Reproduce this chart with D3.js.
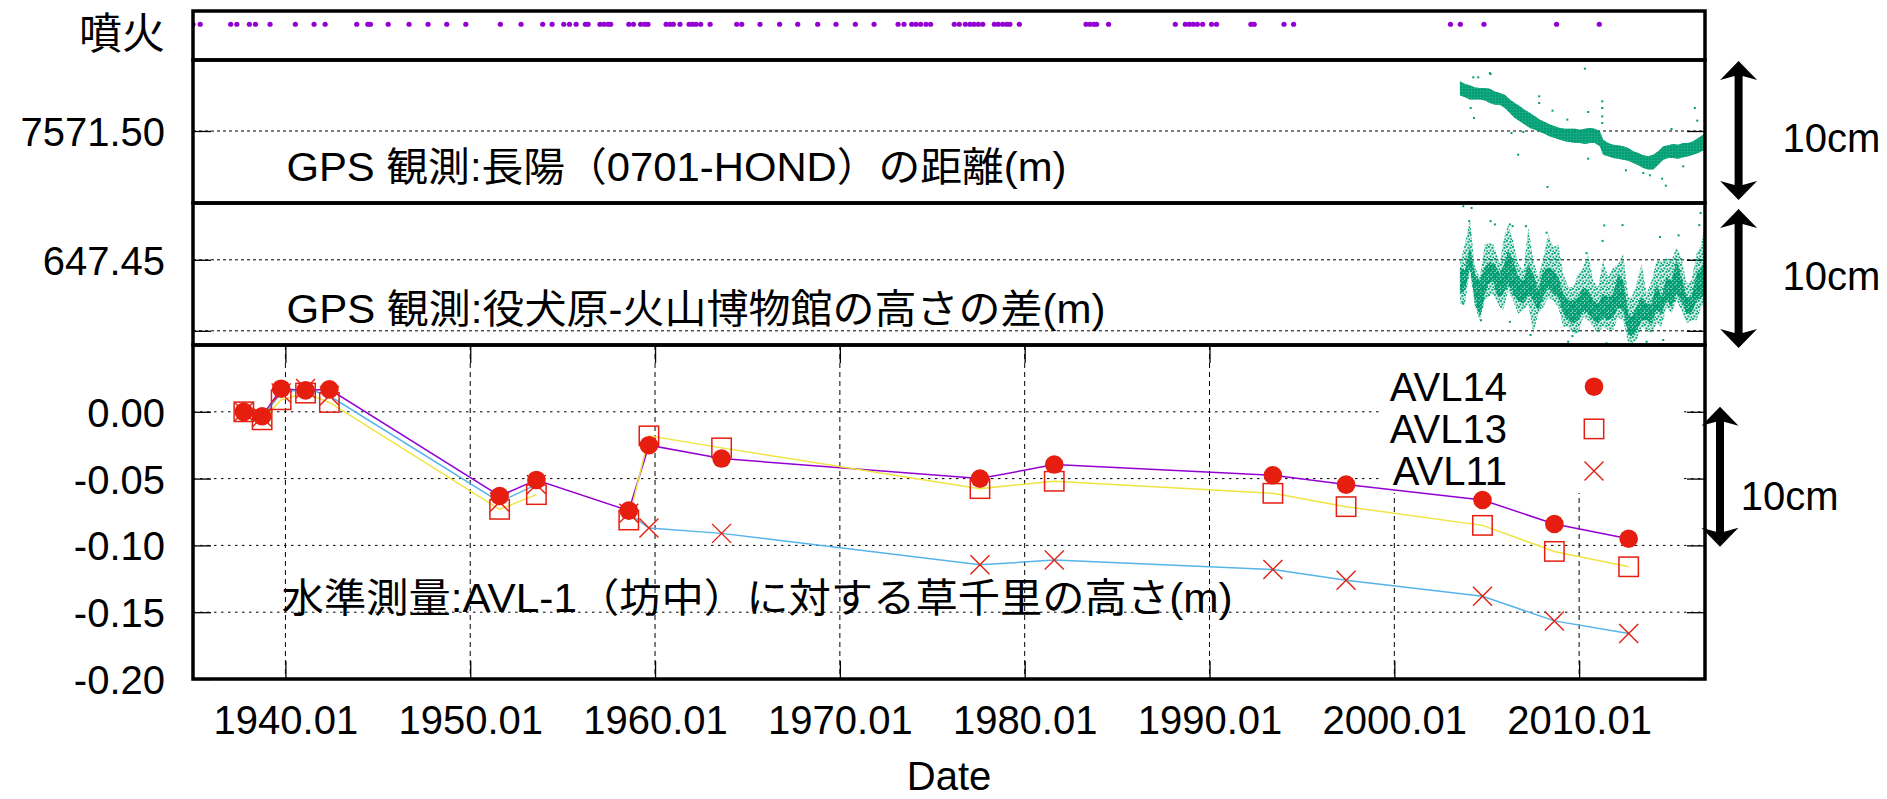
<!DOCTYPE html>
<html><head><meta charset="utf-8">
<script src="https://cdn.jsdelivr.net/npm/d3@7"></script>
<style>body{margin:0;background:#fff}svg{display:block}</style>
</head><body>
<svg id="chart" width="1887" height="799"></svg>
<script>
// ---------------- DATA ----------------
// eruption dates (decimal years)
const eruptionYears = [1935.00,1935.39,1937.04,1937.37,1938.05,1938.38,1939.17,1940.54,1941.55,1942.15,1943.86,1944.46,1944.60,1945.56,1946.69,1947.72,1948.73,1949.76,1951.63,1952.75,1953.92,1954.43,1955.06,1955.37,1955.73,1956.23,1956.38,1957.02,1957.24,1957.46,1957.60,1958.58,1958.83,1959.22,1959.44,1959.62,1960.60,1960.81,1960.99,1961.35,1961.84,1962.03,1962.22,1962.47,1962.98,1964.42,1964.69,1965.68,1966.74,1967.72,1968.80,1969.79,1970.84,1971.85,1973.15,1973.47,1973.89,1974.12,1974.37,1974.66,1974.91,1976.19,1976.46,1976.79,1977.04,1977.26,1977.49,1977.73,1978.36,1978.57,1978.81,1979.02,1979.20,1979.71,1983.32,1983.53,1983.75,1983.89,1984.54,1988.15,1988.69,1988.91,1989.12,1989.34,1989.63,1990.11,1990.38,1992.24,1992.42,1994.03,1994.55,2003.04,2003.57,2004.85,2008.78,2011.09];

// GPS distance 0701-HOND (m): band upper / lower edges
const gpsDistYears = [2003.55,2003.82,2004.09,2004.36,2004.63,2004.90,2005.17,2005.44,2005.71,2005.98,2006.25,2006.52,2006.79,2007.05,2007.34,2007.61,2007.88,2008.15,2008.42,2008.69,2008.96,2009.23,2009.50,2009.77,2010.04,2010.31,2010.58,2010.85,2011.12,2011.30,2011.57,2011.84,2012.11,2012.38,2012.66,2012.93,2013.20,2013.47,2013.74,2014.01,2014.28,2014.55,2014.82,2015.09,2015.36,2015.63,2015.90,2016.17,2016.44,2016.71,2016.81];
const gpsDistHi = [7571.5350,7571.5331,7571.5322,7571.5307,7571.5303,7571.5303,7571.5298,7571.5279,7571.5268,7571.5256,7571.5221,7571.5197,7571.5174,7571.5150,7571.5127,7571.5103,7571.5080,7571.5063,7571.5045,7571.5033,7571.5021,7571.5016,7571.5016,7571.5016,7571.5009,7571.5016,7571.5021,7571.5016,7571.4998,7571.4939,7571.4916,7571.4904,7571.4899,7571.4892,7571.4880,7571.4857,7571.4845,7571.4829,7571.4822,7571.4833,7571.4857,7571.4892,7571.4899,7571.4908,7571.4904,7571.4916,7571.4916,7571.4927,7571.4951,7571.4974,7571.4985];
const gpsDistLo = [7571.5251,7571.5237,7571.5221,7571.5221,7571.5221,7571.5214,7571.5197,7571.5185,7571.5185,7571.5162,7571.5127,7571.5092,7571.5068,7571.5045,7571.5021,7571.5009,7571.4993,7571.4979,7571.4962,7571.4951,7571.4939,7571.4927,7571.4923,7571.4916,7571.4916,7571.4908,7571.4916,7571.4916,7571.4892,7571.4833,7571.4822,7571.4810,7571.4805,7571.4798,7571.4791,7571.4775,7571.4758,7571.4739,7571.4728,7571.4728,7571.4763,7571.4798,7571.4810,7571.4810,7571.4805,7571.4815,7571.4822,7571.4833,7571.4845,7571.4862,7571.4870];
const gpsDistOutYears = [2010.31,2005.17,2004.27,2004.54,2005.21,2007.84,2007.84,2011.25,2011.25,2011.25,2011.25,2010.49,2008.56,2016.26,2016.39,2006.70,2006.34,2008.29,2014.69,2014.49,2012.53,2010.49,2009.36,2004.31,2004.13,2015.00,2006.98,2013.47,2013.83,2015.63];
const gpsDistOutVals = [7571.5439,7571.5408,7571.5378,7571.5378,7571.5401,7571.5244,7571.5197,7571.5209,7571.5162,7571.5103,7571.5056,7571.5134,7571.5143,7571.5162,7571.5073,7571.4833,7571.4986,7571.4606,7571.4615,7571.4664,7571.4723,7571.4805,7571.5080,7571.5092,7571.5162,7571.5014,7571.4993,7571.4704,7571.4688,7571.4751];

// GPS height difference (m): sparse envelope and dense core
const gpsHgtYears = [2003.55,2003.82,2004.09,2004.36,2004.63,2004.90,2005.08,2005.35,2005.53,2005.71,2005.89,2006.16,2006.43,2006.70,2006.98,2007.25,2007.52,2007.79,2008.06,2008.33,2008.60,2008.87,2009.14,2009.41,2009.68,2009.95,2010.22,2010.49,2010.76,2011.03,2011.30,2011.57,2011.84,2012.11,2012.38,2012.66,2012.84,2013.11,2013.38,2013.65,2013.92,2014.19,2014.46,2014.73,2015.00,2015.27,2015.54,2015.81,2016.08,2016.35,2016.62,2016.80];
const gpsHgtOuterHi = [647.4470,647.4609,647.4784,647.4447,647.4377,647.4609,647.4621,647.4609,647.4540,647.4470,647.4633,647.4749,647.4633,647.4470,647.4423,647.4726,647.4493,647.4377,647.4516,647.4679,647.4586,647.4609,647.4400,647.4307,647.4307,647.4400,647.4447,647.4540,647.4353,647.4307,647.4493,647.4377,647.4447,647.4470,647.4540,647.4237,647.4237,647.4330,647.4470,647.4260,647.4353,647.4493,647.4493,647.4516,647.4493,647.4586,647.4516,647.4330,647.4353,647.4540,647.4609,647.4772];
const gpsHgtCoreHi = [647.4447,647.4423,647.4586,647.4400,647.4353,647.4447,647.4481,647.4470,647.4447,647.4400,647.4447,647.4563,647.4493,647.4377,647.4353,647.4470,647.4400,647.4284,647.4423,647.4447,647.4423,647.4377,647.4260,647.4214,647.4214,647.4237,647.4307,647.4284,647.4214,647.4191,647.4260,647.4237,647.4260,647.4400,647.4353,647.4121,647.4098,647.4167,647.4237,647.4191,647.4191,647.4330,647.4237,647.4377,647.4353,647.4493,647.4377,647.4237,647.4237,647.4400,647.4447,647.4493];
const gpsHgtCoreLo = [647.4260,647.4284,647.4447,647.4214,647.4098,647.4260,647.4330,647.4353,647.4260,647.4237,647.4260,647.4330,647.4260,647.4214,647.4191,647.4260,647.4214,647.4144,647.4237,647.4307,647.4260,647.4237,647.4121,647.4074,647.4051,647.4074,647.4144,647.4121,647.4074,647.4051,647.4098,647.4074,647.4098,647.4167,647.4144,647.3981,647.3958,647.4005,647.4074,647.4074,647.4051,647.4144,647.4121,647.4214,647.4167,647.4260,647.4214,647.4121,647.4121,647.4214,647.4237,647.4260];
const gpsHgtOuterLo = [647.4191,647.4191,647.4423,647.4167,647.4074,647.4214,647.4237,647.4260,647.4214,647.4167,647.4144,647.4284,647.4214,647.4121,647.4144,647.4191,647.3981,647.4121,647.4167,647.4237,647.4214,647.4167,647.4028,647.4028,647.3981,647.3981,647.4098,647.4074,647.4028,647.3981,647.4028,647.4005,647.4005,647.4098,647.4074,647.3912,647.3912,647.3935,647.4028,647.4005,647.3981,647.4051,647.4028,647.4167,647.4121,647.4214,647.4144,647.4051,647.4074,647.4074,647.4167,647.4214];
const gpsHgtOutYears = [2003.73,2004.18,2004.09,2004.05,2005.21,2005.44,2006.25,2006.40,2007.12,2008.24,2011.36,2012.35,2014.37,2015.38,2016.50,2016.57,2007.37,2009.64,2012.84,2014.55,2006.25,2004.69,2010.40,2011.27,2003.73,2009.41,2011.48,2013.65];
const gpsHgtOutVals = [647.4877,647.4865,647.4691,647.4772,647.4772,647.4749,647.4749,647.4737,647.4737,647.4691,647.4742,647.4744,647.4660,647.4672,647.4744,647.4830,647.3970,647.3963,647.3907,647.3935,647.4063,647.4074,647.4547,647.4633,647.4191,647.3923,647.3912,647.3923];

// levelling: heights relative to AVL-1 (m)
const levYears = [1937.75,1938.74,1939.77,1941.09,1942.38,1951.59,1953.58,1958.58,1959.67,1963.60,1977.58,1981.60,1993.43,1997.39,2004.77,2008.66,2012.68];
const avl14 = [0.0000,-0.0033,0.0173,0.0160,0.0168,-0.0630,-0.0510,-0.0740,-0.0250,-0.0350,-0.0500,-0.0395,-0.0475,-0.0545,-0.0660,-0.0840,-0.0950];
const avl13 = [0.0000,-0.0060,0.0090,0.0140,0.0070,-0.0730,-0.0620,-0.0810,-0.0180,-0.0270,-0.0575,-0.0520,-0.0610,-0.0710,-0.0850,-0.1045,-0.1160];
const avl11 = [0.0000,-0.0040,0.0140,0.0175,0.0120,-0.0675,-0.0545,-0.0760,-0.0870,-0.0910,-0.1145,-0.1110,-0.1180,-0.1260,-0.1380,-0.1565,-0.1660];
const seriesNames = ["AVL14","AVL13","AVL11"];

// ticks
const xTickValues = [1940,1950,1960,1970,1980,1990,2000,2010];
const xTickLabels = ["1940.01","1950.01","1960.01","1970.01","1980.01","1990.01","2000.01","2010.01"];
const distTicks = [7571.50];
const distTickLabels = ["7571.50"];
const hgtTicks = [647.40, 647.45];
const hgtTickLabels = ["", "647.45"];
const levTicks = [0.00,-0.05,-0.10,-0.15,-0.20];
const levTickLabels = ["0.00","-0.05","-0.10","-0.15","-0.20"];

// 10cm scale arrows (value spans in each panel's units)
const arrowDist = [7571.5493, 7571.4514];
const arrowHgt = [647.4858, 647.3879];
const arrowLev = [0.0038, -0.1010];

// ---------------- LAYOUT ----------------
const plotL = 193, plotR = 1705;
const P1 = [11, 60], P2 = [60, 203], P3 = [203, 345], P4 = [345, 679];
const LATIN = "'Liberation Sans', Arial, sans-serif";
const JP = "'Liberation Sans', 'Noto Sans CJK JP', sans-serif";
const RED = "#e51e10", GREEN = "#009e73";

const svg = d3.select('#chart');
svg.append('rect').attr('width',1887).attr('height',799).attr('fill','#fff');

const x = d3.scaleLinear().domain([1935.0, 2016.81]).range([plotL, plotR]);
const yE = d3.scaleLinear().domain([0, 1]).range([P1[1], P1[0]]);
const yD = d3.scaleLinear().domain([7571.45, 7571.55]).range([202, P2[0]]);
const yH = d3.scaleLinear().domain([647.39, 647.49]).range([P3[1], P3[0]]);
const yL = d3.scaleLinear().domain([-0.20, 0.05]).range([P4[1], P4[0]]);

// clip paths and speckle patterns (to mimic dense scatter of daily GPS points)
const defs = svg.append('defs');
[['c1',P1],['c2',P2],['c3',P3],['c4',P4]].forEach(([id,p])=>{
  defs.append('clipPath').attr('id',id).append('rect')
    .attr('x',plotL).attr('y',p[0]).attr('width',plotR-plotL).attr('height',p[1]-p[0]);
});
function speckle(id, size, dots, r){
  const pt = defs.append('pattern').attr('id',id).attr('patternUnits','userSpaceOnUse')
    .attr('width',size).attr('height',size);
  dots.forEach(([a,b])=>pt.append('rect').attr('x',a).attr('y',b).attr('width',r).attr('height',r).attr('fill',GREEN));
}
speckle('spSparse', 6, [[0,0],[3.5,1],[1.5,3.5],[4.5,4.5]], 1.8);
speckle('spDense', 4, [[0,0],[2,1],[1,2.5],[3,3]], 2);
speckle('spBand', 3, [[0,0],[1.5,1.5],[0,1.5],[1.5,0]], 1.6);

// ---------------- GRID ----------------
function hGrid(scale, vals, clip, dash){
  svg.append('g').attr('clip-path',`url(#${clip})`).selectAll('line').data(vals).join('line')
    .attr('x1',plotL).attr('x2',plotR).attr('y1',d=>scale(d)).attr('y2',d=>scale(d))
    .attr('stroke','#000').attr('stroke-width',1).attr('stroke-dasharray',dash);
}
hGrid(yD, distTicks, 'c2', '3,3');
hGrid(yH, hgtTicks, 'c3', '3,3');
hGrid(yL, levTicks.filter(v=>v>-0.2), 'c4', '2.5,4.5');
svg.append('g').selectAll('line').data(xTickValues).join('line')
  .attr('x1',d=>x(d)).attr('x2',d=>x(d)).attr('y1',P4[0]).attr('y2',P4[1])
  .attr('stroke','#000').attr('stroke-width',1).attr('stroke-dasharray','5,4');

// ---------------- AXES ----------------
function styleAxis(g){
  g.select('.domain').remove();
  g.attr('font-size',null).attr('font-family',null);
  g.selectAll('line').attr('stroke','#000').attr('stroke-width',1.3);
  g.selectAll('text').attr('fill','#000').attr('font-size',40).attr('font-family',LATIN);
}
function yAxes(scale, vals, labels){
  const gl = svg.append('g').attr('transform',`translate(${plotL},0)`)
    .call(d3.axisLeft(scale).tickValues(vals).tickSize(-18).tickPadding(28).tickFormat((d,i)=>labels[i]));
  styleAxis(gl); gl.selectAll('text').attr('dy','0.36em');
  const gr = svg.append('g').attr('transform',`translate(${plotR},0)`)
    .call(d3.axisRight(scale).tickValues(vals).tickSize(-18).tickFormat(''));
  styleAxis(gr);
}
yAxes(yD, distTicks, distTickLabels);
yAxes(yH, hgtTicks, hgtTickLabels);
yAxes(yL, levTicks, levTickLabels);
const gxb = svg.append('g').attr('transform',`translate(0,${P4[1]})`)
  .call(d3.axisBottom(x).tickValues(xTickValues).tickSize(-18).tickPadding(27).tickFormat((d,i)=>xTickLabels[i]));
styleAxis(gxb);
const gxt = svg.append('g').attr('transform',`translate(0,${P4[0]})`)
  .call(d3.axisTop(x).tickValues(xTickValues).tickSize(-18).tickFormat(''));
styleAxis(gxt);

// ---------------- LEGEND BOX (opaque) ----------------
svg.append('rect').attr('x',1381).attr('y',P4[0]+2).attr('width',302).attr('height',146).attr('fill','#fff');

// ---------------- ERUPTIONS ----------------
svg.append('g').attr('clip-path','url(#c1)').selectAll('circle').data(eruptionYears).join('circle')
  .attr('cx',d=>x(d)).attr('cy',yE(0.73)).attr('r',2.6).attr('fill','#9400d3');

// ---------------- GPS DISTANCE ----------------
const distRows = gpsDistYears.map((t,i)=>({t, hi:gpsDistHi[i], lo:gpsDistLo[i]}));
const gD = svg.append('g').attr('clip-path','url(#c2)');
const distArea = d3.area().x(d=>x(d.t)).y0(d=>yD(d.lo)).y1(d=>yD(d.hi));
gD.append('path').datum(distRows).attr('d', distArea).attr('fill',GREEN).attr('fill-opacity',0.55);
gD.append('path').datum(distRows).attr('d', distArea).attr('fill','url(#spBand)');
gD.selectAll('rect.o').data(gpsDistOutYears.map((t,i)=>[t,gpsDistOutVals[i]])).join('rect')
  .attr('x',d=>x(d[0])-1).attr('y',d=>yD(d[1])-1).attr('width',2).attr('height',2).attr('fill',GREEN);

// ---------------- GPS HEIGHT ----------------
const hgtRows = gpsHgtYears.map((t,i)=>({t, oh:gpsHgtOuterHi[i], ch:gpsHgtCoreHi[i], cl:gpsHgtCoreLo[i], ol:gpsHgtOuterLo[i]}));
const gH = svg.append('g').attr('clip-path','url(#c3)');
const outerArea = d3.area().x(d=>x(d.t)).y0(d=>yH(d.ol)).y1(d=>yH(d.oh));
const coreArea = d3.area().x(d=>x(d.t)).y0(d=>yH(d.cl)).y1(d=>yH(d.ch));
gH.append('path').datum(hgtRows).attr('d', outerArea).attr('fill',GREEN).attr('fill-opacity',0.18);
gH.append('path').datum(hgtRows).attr('d', outerArea).attr('fill','url(#spSparse)');
gH.append('path').datum(hgtRows).attr('d', coreArea).attr('fill',GREEN).attr('fill-opacity',0.4);
gH.append('path').datum(hgtRows).attr('d', coreArea).attr('fill','url(#spDense)');
gH.selectAll('rect.o').data(gpsHgtOutYears.map((t,i)=>[t,gpsHgtOutVals[i]])).join('rect')
  .attr('x',d=>x(d[0])-1).attr('y',d=>yH(d[1])-1).attr('width',2).attr('height',2).attr('fill',GREEN);

// ---------------- LEVELLING ----------------
const levSeries = [
  {name:seriesNames[0], vals:avl14, color:'#9400d3', sym:'circle', segs:[[0,17]]},
  {name:seriesNames[1], vals:avl13, color:'#f0e442', sym:'square', segs:[[0,7],[7,17]]},
  {name:seriesNames[2], vals:avl11, color:'#56b4e9', sym:'cross', segs:[[0,7],[7,17]]}
];
const line = d3.line().x(d=>x(d[0])).y(d=>yL(d[1]));
const gLev = svg.append('g').attr('clip-path','url(#c4)');
levSeries.forEach(s=>{
  const pts = levYears.map((t,i)=>[t,s.vals[i]]);
  s.segs.forEach(([a,b])=>{
    gLev.append('path').datum(pts.slice(a,b)).attr('d',line)
      .attr('fill','none').attr('stroke',s.color).attr('stroke-width',1.5);
  });
});
function drawSym(g, sym, cx, cy){
  if(sym==='circle') g.append('circle').attr('cx',cx).attr('cy',cy).attr('r',9.3).attr('fill',RED);
  else if(sym==='square') g.append('rect').attr('x',cx-9.7).attr('y',cy-9.7).attr('width',19.4).attr('height',19.4)
      .attr('fill','none').attr('stroke',RED).attr('stroke-width',1.5);
  else g.append('path').attr('d',`M${cx-9.5},${cy-9.5}L${cx+9.5},${cy+9.5}M${cx-9.5},${cy+9.5}L${cx+9.5},${cy-9.5}`)
      .attr('stroke',RED).attr('stroke-width',1.4).attr('fill','none');
}
[2,1,0].forEach(k=>{
  const s = levSeries[k];
  levYears.forEach((t,i)=>drawSym(gLev, s.sym, x(t), yL(s.vals[i])));
});

// legend entries
levSeries.forEach((s,i)=>{
  const by = 400.7 + i*42.2;
  svg.append('text').attr('x',1507).attr('y',by).attr('text-anchor','end')
    .attr('font-family',LATIN).attr('font-size',40).attr('fill','#000').text(s.name);
  drawSym(svg, s.sym, 1594, by-14);
});

// ---------------- PANEL TEXTS ----------------
function jpText(txt, x0, base, len){
  svg.append('text').attr('x',x0).attr('y',base).attr('font-family',JP).attr('font-size',40)
    .attr('fill','#000').attr('textLength',len).attr('lengthAdjust','spacingAndGlyphs').text(txt);
}
jpText('GPS 観測:長陽（0701-HOND）の距離(m)', 286.5, 181, 780);
jpText('GPS 観測:役犬原-火山博物館の高さの差(m)', 286.5, 323, 819);
jpText('水準測量:AVL-1（坊中）に対する草千里の高さ(m)', 281.6, 612, 951);
svg.append('text').attr('x',165).attr('y',48.5).attr('text-anchor','end').attr('font-family',JP)
  .attr('font-size',43).attr('fill','#000').text('噴火');
svg.append('text').attr('x',(plotL+plotR)/2).attr('y',790).attr('text-anchor','middle')
  .attr('font-family',LATIN).attr('font-size',40).attr('fill','#000').text('Date');

// ---------------- 10cm ARROWS ----------------
function arrow(cx, yTop, yBot){
  const hw=18.5, hl=19, sw=4, nj=15;
  const d = `M${cx},${yTop}L${cx+hw},${yTop+hl}L${cx+sw},${yTop+nj}L${cx+sw},${yBot-nj}L${cx+hw},${yBot-hl}`+
            `L${cx},${yBot}L${cx-hw},${yBot-hl}L${cx-sw},${yBot-nj}L${cx-sw},${yTop+nj}L${cx-hw},${yTop+hl}Z`;
  svg.append('path').attr('d',d).attr('fill','#000');
}
function cmLabel(x0, base){
  svg.append('text').attr('x',x0).attr('y',base).attr('font-family',LATIN).attr('font-size',40)
    .attr('fill','#000').text('10cm');
}
arrow(1738.6, yD(arrowDist[0]), yD(arrowDist[1])); cmLabel(1782.5, yD(7571.4852));
arrow(1738.6, yH(arrowHgt[0]), yH(arrowHgt[1]));  cmLabel(1782.5, yH(647.4287));
arrow(1720, yL(arrowLev[0]), yL(arrowLev[1]));    cmLabel(1740.7, yL(-0.0735));

// ---------------- PANEL BORDERS ----------------
[P1,P2,P3,P4].forEach(p=>{
  svg.append('rect').attr('x',plotL).attr('y',p[0]).attr('width',plotR-plotL).attr('height',p[1]-p[0])
    .attr('fill','none').attr('stroke','#000').attr('stroke-width',3.5);
});
</script>
</body></html>
